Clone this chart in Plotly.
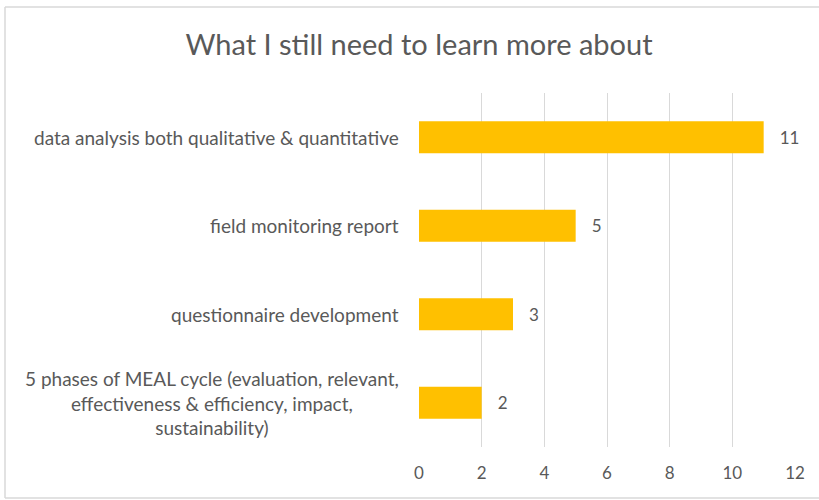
import plotly.graph_objects as go

categories = [
    "data analysis both qualitative & quantitative",
    "field monitoring report",
    "questionnaire development",
    "5 phases of MEAL cycle (evaluation, relevant,<br>effectiveness & efficiency, impact,<br>sustainability)",
]
values = [11, 5, 3, 2]
x_ticks = [0, 2, 4, 6, 8, 10, 12]

FONT = "Lato"
GRAY = "#595959"

W, H = 819, 500
L, R, T, B = 419, 24, 93, 53
pw, ph = W - L - R, H - T - B

def px_x(p):
    return (p - L) / pw

def px_y(p):
    return (H - B - p) / ph

fig = go.Figure()
fig.add_trace(go.Bar(
    y=list(range(len(categories))),
    x=values,
    orientation="h",
    marker=dict(color="#FFC000", line=dict(width=0)),
    text=values,
    texttemplate="   %{x}",
    textposition="outside",
    textfont=dict(family=FONT, size=17, color=GRAY),
    cliponaxis=False,
    hoverinfo="skip",
))

for i, c in enumerate(categories):
    fig.add_annotation(
        x=px_x(401), xref="paper", y=i, yref="y",
        text=c, showarrow=False, xanchor="right", yanchor="middle",
        align="center", font=dict(family=FONT, size=19, color=GRAY),
    )

border = dict(color="#D9D9D9", width=1.5)
for (xa, ya, xb, yb) in [(5, 7, 819, 7), (5, 7, 5, 498), (5, 498, 819, 498)]:
    fig.add_shape(
        type="line", xref="paper", yref="paper",
        x0=px_x(xa), y0=px_y(ya), x1=px_x(xb), y1=px_y(yb),
        line=border, layer="below",
    )

fig.update_layout(
    width=W, height=H,
    margin=dict(l=L, r=R, t=T, b=B),
    paper_bgcolor="white", plot_bgcolor="white",
    bargap=0.64,
    showlegend=False,
    title=dict(
        text="What I still need to learn more about",
        x=419 / W, xanchor="center",
        y=1 - 45 / H, yanchor="middle",
        font=dict(family=FONT, size=29, color=GRAY),
    ),
    xaxis=dict(
        range=[0, 12], tickvals=x_ticks, showgrid=True, gridcolor="#D9D9D9",
        gridwidth=1, zeroline=False, showline=False, ticks="",
        tickfont=dict(family=FONT, size=17, color=GRAY), ticklabelstandoff=14,
        fixedrange=True,
    ),
    yaxis=dict(
        range=[3.5, -0.5], showticklabels=False, showgrid=False,
        zeroline=False, showline=False, ticks="", fixedrange=True,
    ),
)

fig.write_html(
    "out.html",
    config={"displayModeBar": False},
    post_script="document.body.style.margin='0';document.body.style.overflow='hidden';",
)
